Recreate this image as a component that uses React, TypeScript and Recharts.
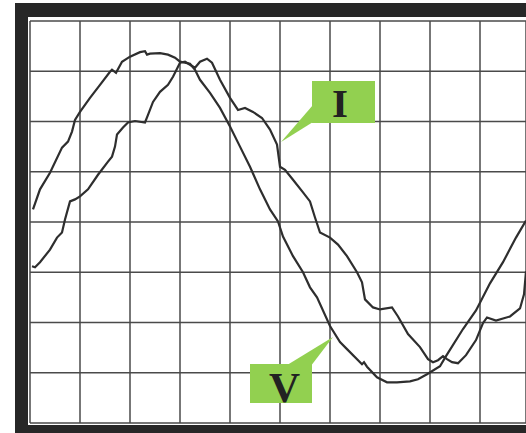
import { LineChart, Line, XAxis, YAxis, CartesianGrid } from "recharts";

// oscilloscope trace, units = grid divisions
const X_TICKS = [0, 1, 2, 3, 4, 5, 6, 7, 8, 9];
const Y_TICKS = [-4, -3, -2, -1, 0, 1, 2, 3, 4];

const V_T = [
  0.06, 0.2, 0.4, 0.64, 0.76, 0.84, 0.9, 1.0, 1.2, 1.4, 1.6, 1.64, 1.72, 1.84, 2.0, 2.2, 2.3, 2.34,
  2.4, 2.6, 2.76, 2.9, 3.0, 3.2, 3.3, 3.4, 3.6, 3.8, 4.0, 4.2, 4.4, 4.6, 4.8, 4.96, 5.06, 5.26, 5.46,
  5.6, 5.74, 6.0, 6.2, 6.34, 6.64, 6.68, 6.74, 6.94, 7.14, 7.34, 7.6, 7.76, 7.94, 8.2, 8.32, 8.66,
  8.92, 9.2, 9.46, 9.72, 9.92,
];
const V_Y = [
  0.25, 0.65, 0.98, 1.48, 1.6, 1.8, 2.03, 2.19, 2.47, 2.73, 2.99, 3.03, 2.97, 3.19, 3.29, 3.38, 3.4,
  3.33, 3.35, 3.36, 3.33, 3.27, 3.19, 3.15, 3.03, 2.83, 2.57, 2.27, 1.9, 1.5, 1.1, 0.65, 0.25, 0.01,
  -0.29, -0.68, -1.0, -1.3, -1.5, -2.07, -2.39, -2.53, -2.83, -2.79, -2.88, -3.09, -3.19, -3.19,
  -3.17, -3.13, -3.03, -2.87, -2.67, -2.13, -1.76, -1.22, -0.8, -0.31, 0.03,
];

const I_T = [
  0.04, 0.1, 0.2, 0.4, 0.54, 0.64, 0.7, 0.8, 0.9, 1.0, 1.16, 1.36, 1.56, 1.64, 1.7, 1.74, 1.86, 1.96,
  2.1, 2.3, 2.36, 2.46, 2.6, 2.76, 2.86, 3.0, 3.1, 3.2, 3.3, 3.4, 3.54, 3.64, 3.8, 4.0, 4.16, 4.3,
  4.46, 4.64, 4.8, 4.94, 5.0, 5.1, 5.26, 5.46, 5.6, 5.7, 5.8, 6.0, 6.16, 6.34, 6.54, 6.64, 6.7, 6.86,
  7.0, 7.24, 7.36, 7.56, 7.8, 7.96, 8.06, 8.16, 8.26, 8.34, 8.44, 8.56, 8.72, 8.92, 9.06, 9.14, 9.32,
  9.6, 9.8, 9.88, 9.92,
];
const I_Y = [
  -0.88, -0.9, -0.8, -0.55, -0.31, -0.21, 0.05, 0.41, 0.45, 0.51, 0.65, 0.94, 1.2, 1.3, 1.5, 1.74,
  1.88, 1.98, 2.01, 1.98, 2.13, 2.39, 2.59, 2.73, 2.89, 3.17, 3.19, 3.13, 3.07, 3.19, 3.25, 3.17,
  2.83, 2.47, 2.23, 2.27, 2.19, 2.07, 1.84, 1.54, 1.1, 1.04, 0.84, 0.59, 0.41, 0.09, -0.21, -0.31,
  -0.45, -0.68, -1.0, -1.2, -1.54, -1.7, -1.74, -1.7, -1.88, -2.23, -2.49, -2.73, -2.79, -2.75,
  -2.67, -2.73, -2.79, -2.81, -2.65, -2.35, -2.01, -1.9, -1.96, -1.88, -1.72, -1.44, -0.98,
];

const vData = V_T.map((t, i) => ({ t, y: V_Y[i] }));
const iData = I_T.map((t, i) => ({ t, y: I_Y[i] }));

const GREEN = "#92D050";
const INK = "#2e2e2e";
const hiddenTick = { fontSize: 0, fill: "none" };

export default function App() {
  return (
    <div
      style={{
        position: "fixed",
        left: 0,
        top: 0,
        width: 526,
        height: 433,
        background: "#fff",
        overflow: "hidden",
      }}
    >
      <div style={{ position: "absolute", left: 15, top: 3, width: 540, height: 440, background: "#272727" }} />
      <div style={{ position: "absolute", left: 28, top: 17, width: 520, height: 407.5, background: "#fff" }} />
      <div style={{ position: "absolute", left: 0, top: 0 }}>
        <LineChart width={526} height={433} margin={{ top: 21, right: 0, bottom: 10, left: 30 }}>
          <CartesianGrid stroke="#4a4a4a" strokeWidth={1.5} />
          <XAxis
            type="number"
            dataKey="t"
            domain={[0, 9.92]}
            ticks={X_TICKS}
            interval={0}
            height={0}
            axisLine={false}
            tickLine={false}
            tick={hiddenTick}
            allowDataOverflow
          />
          <YAxis
            type="number"
            dataKey="y"
            domain={[-4, 4]}
            ticks={Y_TICKS}
            interval={0}
            width={0}
            axisLine={false}
            tickLine={false}
            tick={hiddenTick}
            allowDataOverflow
          />
          <Line data={vData} dataKey="y" type="linear" stroke={INK} strokeWidth={2.2} dot={false} isAnimationActive={false} />
          <Line data={iData} dataKey="y" type="linear" stroke={INK} strokeWidth={2.2} dot={false} isAnimationActive={false} />
        </LineChart>
      </div>
      <svg width={526} height={433} style={{ position: "absolute", left: 0, top: 0, pointerEvents: "none" }}>
        <polygon points="313,105 281,142 313,122" fill={GREEN} />
        <rect x={312} y={81} width={63} height={42} fill={GREEN} />
        <text
          x={340}
          y={117}
          textAnchor="middle"
          fontFamily="'Liberation Serif', serif"
          fontWeight="bold"
          fontSize={41}
          fill="#222"
        >
          I
        </text>
        <polygon points="288,364.5 333,337 312,364.5" fill={GREEN} />
        <rect x={250} y={364} width={62} height={39} fill={GREEN} />
        <text
          x={284.5}
          y={401.5}
          textAnchor="middle"
          fontFamily="'Liberation Serif', serif"
          fontWeight="bold"
          fontSize={43}
          fill="#222"
        >
          V
        </text>
      </svg>
    </div>
  );
}
